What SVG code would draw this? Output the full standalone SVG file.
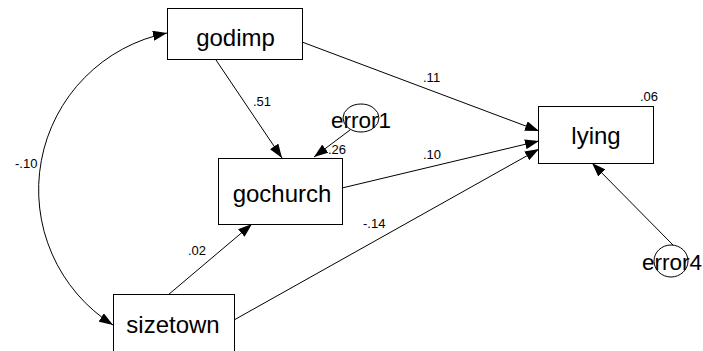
<svg xmlns="http://www.w3.org/2000/svg" width="703" height="351" viewBox="0 0 703 351">
<style>
.box{fill:#fff;stroke:#000;stroke-width:1}
.ell{fill:none;stroke:#000;stroke-width:1}
.node{font-family:"Liberation Sans",Arial,sans-serif;font-size:24px;fill:#000;text-anchor:middle}
.err{font-family:"Liberation Sans",Arial,sans-serif;font-size:22.5px;fill:#000}
.lbl{font-family:"Liberation Sans",Arial,sans-serif;font-size:13px;fill:#000}
.con{fill:none;stroke:#000;stroke-width:1}
</style>
<defs>
<marker id="ah" viewBox="0 0 14 10" refX="14" refY="5" markerWidth="14" markerHeight="10" markerUnits="userSpaceOnUse" orient="auto-start-reverse">
<path d="M0,0 L14,5 L0,10 z" fill="#000"/>
</marker>
</defs>
<rect width="703" height="351" fill="#fff"/>
<g id="connectors">
<path class="con" d="M167,33 A160,160 0 0 0 113,325" marker-start="url(#ah)" marker-end="url(#ah)"/>
<line class="con" x1="216" y1="60" x2="282" y2="158" marker-end="url(#ah)"/>
<line class="con" x1="302" y1="42" x2="539" y2="131" marker-end="url(#ah)"/>
<line class="con" x1="342" y1="188" x2="539" y2="141" marker-end="url(#ah)"/>
<line class="con" x1="234" y1="320" x2="539" y2="149" marker-end="url(#ah)"/>
<line class="con" x1="168" y1="295" x2="252" y2="224" marker-end="url(#ah)"/>
<line class="con" x1="350" y1="130" x2="314" y2="157" marker-end="url(#ah)"/>
<line class="con" x1="673" y1="245" x2="592" y2="163" marker-end="url(#ah)"/>
<text class="lbl" x="15" y="168">-.10</text>
<text class="lbl" x="253" y="106">.51</text>
<text class="lbl" x="423" y="82">.11</text>
<text class="lbl" x="423" y="159">.10</text>
<text class="lbl" x="363" y="228">-.14</text>
<text class="lbl" x="188" y="255">.02</text>
</g>
<g id="godimp">
<rect class="box" x="167.5" y="8.5" width="135" height="51"/>
<text class="node" x="235.5" y="46">godimp</text>
</g>
<g id="gochurch">
<rect class="box" x="218.5" y="158.5" width="124" height="66"/>
<text class="node" x="282" y="202">gochurch</text>
</g>
<g id="sizetown">
<rect class="box" x="113.5" y="294.5" width="121" height="70"/>
<text class="node" x="173" y="333">sizetown</text>
</g>
<g id="lying">
<rect class="box" x="538.5" y="106.5" width="115" height="57"/>
<text class="node" x="596" y="144">lying</text>
<text class="lbl" x="640" y="101">.06</text>
</g>
<g id="error1">
<ellipse class="ell" cx="361" cy="118" rx="18" ry="14"/>
<text class="err" x="331" y="128">error1</text>
<text class="lbl" x="328" y="154">.26</text>
</g>
<g id="error4">
<ellipse class="ell" cx="671" cy="261" rx="17" ry="16"/>
<text class="err" x="642" y="270">error4</text>
</g>
</svg>
